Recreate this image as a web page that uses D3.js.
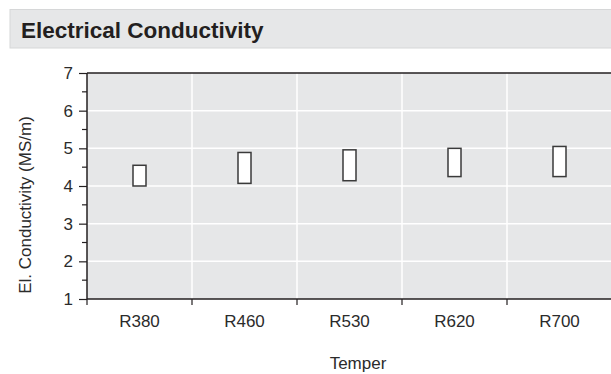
<!DOCTYPE html>
<html>
<head>
<meta charset="utf-8">
<script src="https://cdn.jsdelivr.net/npm/d3@7"></script>
<style>
  body { margin: 0; background: #fff; }
  text { font-family: "Liberation Sans", Arial, sans-serif; fill: #2b2b2b; }
</style>
</head>
<body>
<div id="chart"></div>
<script>
// tempers and the min / max conductivity of each (MS/m)
const tempers = ['R380', 'R460', 'R530', 'R620', 'R700'];
const lowValues = [4.0, 4.07, 4.14, 4.25, 4.25];
const highValues = [4.55, 4.89, 4.96, 5.0, 5.05];
const yTicks = [1, 2, 3, 4, 5, 6, 7];

const width = 611, height = 374;
const margin = { top: 73, right: -1, bottom: 75, left: 87 };

const svg = d3.select('#chart').append('svg')
  .attr('width', width)
  .attr('height', height);

// title bar
svg.append('rect')
  .attr('x', 10).attr('y', 9.5)
  .attr('width', 610).attr('height', 38.5)
  .attr('fill', '#e6e7e8')
  .attr('stroke', '#d6d7d8');
svg.append('text')
  .attr('x', 21).attr('y', 38)
  .style('font-size', '22.5px')
  .style('font-weight', 'bold')
  .style('fill', '#231f20')
  .text('Electrical Conductivity');

const xScale = d3.scaleBand()
  .domain(tempers)
  .range([margin.left, width - margin.right]);
const yScale = d3.scaleLinear()
  .domain([1, 7])
  .range([height - margin.bottom, margin.top]);

const x0 = margin.left, x1 = width - margin.right;
const y0 = yScale(1), y1 = yScale(7);

// plot background
svg.append('rect')
  .attr('x', x0).attr('y', y1)
  .attr('width', x1 - x0).attr('height', y0 - y1)
  .attr('fill', '#e6e7e8');

// white grid
svg.append('g').selectAll('line')
  .data(yTicks.slice(1, -1))
  .enter().append('line')
  .attr('x1', x0).attr('x2', x1)
  .attr('y1', d => yScale(d)).attr('y2', d => yScale(d))
  .attr('stroke', '#fff').attr('stroke-width', 1.5);
svg.append('g').selectAll('line')
  .data(tempers.slice(1))
  .enter().append('line')
  .attr('x1', d => xScale(d)).attr('x2', d => xScale(d))
  .attr('y1', y1).attr('y2', y0)
  .attr('stroke', '#fff').attr('stroke-width', 1.5);

// y axis: major ticks on integers, minor on halves
const yAxis = d3.axisLeft(yScale)
  .tickValues(yTicks)
  .tickSize(8)
  .tickPadding(6)
  .tickFormat(d3.format('d'));
const gy = svg.append('g')
  .attr('transform', 'translate(' + x0 + ',0)')
  .call(yAxis);
gy.select('.domain').remove();
gy.selectAll('.tick line').attr('stroke', '#231f20').attr('stroke-width', 1.2);
gy.selectAll('.tick text').style('font-size', '17px');

svg.append('g').selectAll('line')
  .data(yTicks.slice(0, -1).map(d => d + 0.5))
  .enter().append('line')
  .attr('x1', x0 - 5).attr('x2', x0)
  .attr('y1', d => yScale(d)).attr('y2', d => yScale(d))
  .attr('stroke', '#231f20').attr('stroke-width', 1.2);

// x axis: ticks at band edges, labels at band centres
const xAxis = d3.axisBottom(xScale)
  .tickSize(0)
  .tickPadding(16);
const gx = svg.append('g')
  .attr('transform', 'translate(0,' + y0 + ')')
  .call(xAxis);
gx.select('.domain').remove();
gx.selectAll('.tick text').style('font-size', '17px');

svg.append('g').selectAll('line')
  .data(tempers)
  .enter().append('line')
  .attr('x1', d => xScale(d)).attr('x2', d => xScale(d))
  .attr('y1', y0).attr('y2', y0 + 6)
  .attr('stroke', '#231f20').attr('stroke-width', 1.2);

// frame lines
svg.append('line')
  .attr('x1', x0).attr('x2', x1).attr('y1', y0).attr('y2', y0)
  .attr('stroke', '#231f20').attr('stroke-width', 1.5);
svg.append('line')
  .attr('x1', x0).attr('x2', x1).attr('y1', y1).attr('y2', y1)
  .attr('stroke', '#231f20').attr('stroke-width', 1.5);
svg.append('line')
  .attr('x1', x0).attr('x2', x0).attr('y1', y1).attr('y2', y0)
  .attr('stroke', '#231f20').attr('stroke-width', 1.5);

// range boxes
const boxW = 13;
svg.append('g').selectAll('rect')
  .data(tempers)
  .enter().append('rect')
  .attr('x', d => xScale(d) + xScale.bandwidth() / 2 - boxW / 2)
  .attr('y', (d, i) => yScale(highValues[i]))
  .attr('width', boxW)
  .attr('height', (d, i) => yScale(lowValues[i]) - yScale(highValues[i]))
  .attr('fill', '#fff')
  .attr('stroke', '#3a3a3a')
  .attr('stroke-width', 1.5);

// axis titles
svg.append('text')
  .attr('transform', 'translate(31,205) rotate(-90)')
  .attr('text-anchor', 'middle')
  .style('font-size', '17px')
  .text('El. Conductivity (MS/m)');
svg.append('text')
  .attr('x', 358).attr('y', 369)
  .attr('text-anchor', 'middle')
  .style('font-size', '17px')
  .text('Temper');
</script>
</body>
</html>
